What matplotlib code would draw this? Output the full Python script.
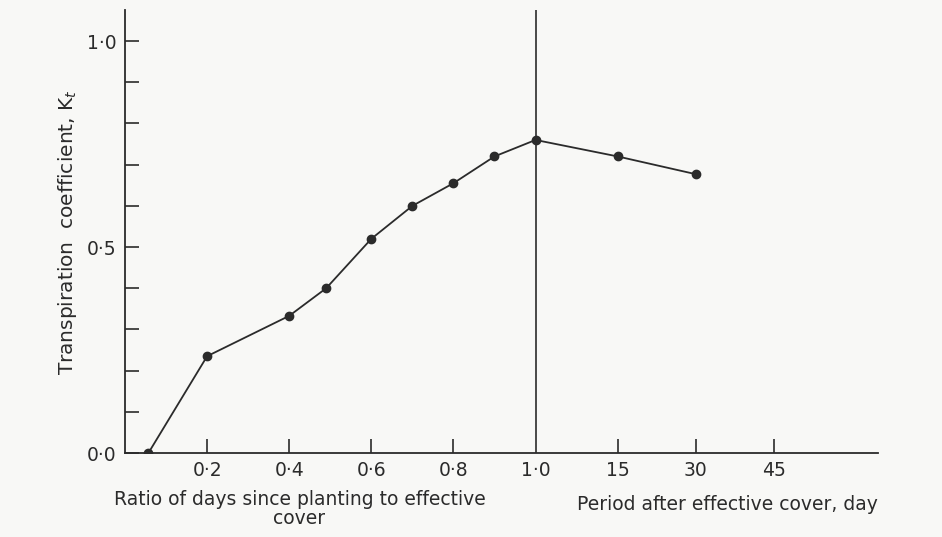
import numpy as np
import matplotlib
matplotlib.use("Agg")
import matplotlib.pyplot as plt

# position on the shared x scale (ratio part 0-1, then days after cover)
x_pos = [0.057, 0.2, 0.4, 0.49, 0.6, 0.7, 0.8, 0.9, 1.0, 1.2, 1.39]
kt = [0.0, 0.235, 0.333, 0.40, 0.52, 0.60, 0.655, 0.72, 0.76, 0.72, 0.677]

xtick_pos = [0.2, 0.4, 0.6, 0.8, 1.0, 1.2, 1.39, 1.58]
xtick_lab = ["0·2", "0·4", "0·6", "0·8", "1·0", "15", "30", "45"]
ytick_pos = [0.0, 0.5, 1.0]
ytick_lab = ["0·0", "0·5", "1·0"]

ink = "#2b2b2b"
bg = "#f8f8f6"

fig = plt.figure(figsize=(9.42, 5.37), dpi=100, facecolor=bg)
ax = fig.add_axes([0.1327, 0.1564, 0.932 - 0.1327, 0.981 - 0.1564])
ax.set_facecolor(bg)

ax.plot(x_pos, kt, color=ink, lw=1.3, marker="o", ms=6, mfc=ink, mec=ink)
ax.axvline(1.0, color=ink, lw=1.2)

ax.set_xlim(0, 1.834)
ax.set_ylim(0, 1.075)
for s in ["top", "right"]:
    ax.spines[s].set_visible(False)
for s in ["left", "bottom"]:
    ax.spines[s].set_color(ink)
    ax.spines[s].set_linewidth(1.3)

ax.set_xticks(xtick_pos)
ax.set_xticklabels(xtick_lab)
ax.set_yticks(ytick_pos)
ax.set_yticklabels(ytick_lab)
ax.set_yticks(np.arange(0.1, 1.0, 0.1), minor=True)
ax.tick_params(axis="both", direction="in", length=10, width=1.2, colors=ink,
               labelsize=13.5, pad=6)
ax.tick_params(axis="y", which="minor", direction="in", length=10, width=1.2, colors=ink)
# no tick mark at 1.0, the vertical divider stands there
ax.xaxis.get_major_ticks()[4].tick1line.set_visible(False)

ax.set_ylabel("Transpiration  coefficient, K$_t$", fontsize=14.5, color=ink, labelpad=6)
fig.text(0.318, 0.052, "Ratio of days since planting to effective\ncover",
         ha="center", va="center", fontsize=13.5, color=ink, linespacing=0.95)
fig.text(0.772, 0.06, "Period after effective cover, day",
         ha="center", va="center", fontsize=13.5, color=ink)

fig.savefig("out.png", dpi=100, facecolor=bg)
